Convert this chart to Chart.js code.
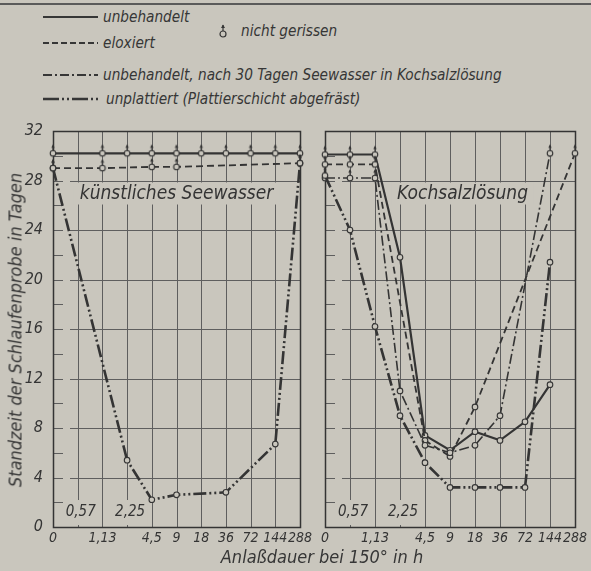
<!DOCTYPE html>
<html lang="de">
<head>
<meta charset="utf-8">
<title>Standzeit der Schlaufenprobe</title>
<script src="https://cdn.jsdelivr.net/npm/chart.js@4.4.1/dist/chart.umd.min.js"></script>
<style>
    html, body { margin: 0; padding: 0; }
    body {
        width: 591px; height: 571px; position: relative; overflow: hidden;
        background: #c9c6bd; color: #363636;
        font-family: "Liberation Sans Narrow", "DejaVu Sans Condensed", "Liberation Sans", Arimo, sans-serif; font-style: italic;
    }
    .rule { position: absolute; left: 0; top: 3px; width: 591px; height: 2px; background: #5a5a5a; }
    .item { position: absolute; height: 20px; display: flex; align-items: center; white-space: nowrap; font-size: 15.2px; }
    .item svg { margin-right: 5px; }
    canvas { position: absolute; top: 110px; }
    #chartSea { left: 0; }
    #chartSalt { left: 300px; }
    .title-x { position: absolute; left: 322px; top: 556px; transform: translate(-50%, -50%); font-size: 18px; white-space: nowrap; }
    .title-y { position: absolute; left: 15px; top: 330px; transform: translate(-50%, -50%) rotate(-90deg); font-size: 18px; white-space: nowrap; }
</style>
</head>
<body>
<div class="rule"></div>

<div class="item" style="left:43px; top:7px">
    <svg width="55" height="10"><line x1="0" y1="5" x2="55" y2="5" stroke="#363636" stroke-width="2"/></svg>
    <span>unbehandelt</span>
</div>
<div class="item" style="left:43px; top:33px">
    <svg width="55" height="10"><line x1="0" y1="5" x2="55" y2="5" stroke="#363636" stroke-width="1.8" stroke-dasharray="6 3"/></svg>
    <span>eloxiert</span>
</div>
<div class="item" style="left:218px; top:21px">
    <svg width="18" height="16"><line x1="5" y1="2" x2="5" y2="8" stroke="#363636" stroke-width="1.2"/><path d="M3 5 L5 1.5 L7 5 Z" fill="#363636"/><circle cx="5" cy="11" r="3" fill="none" stroke="#363636" stroke-width="1.2"/></svg>
    <span>nicht gerissen</span>
</div>
<div class="item" style="left:43px; top:65px">
    <svg width="55" height="10"><line x1="0" y1="5" x2="55" y2="5" stroke="#363636" stroke-width="1.8" stroke-dasharray="9 3 2 3"/></svg>
    <span>unbehandelt, nach 30 Tagen Seewasser in Kochsalzlösung</span>
</div>
<div class="item" style="left:43px; top:89px">
    <svg width="58" height="10"><line x1="0" y1="5" x2="58" y2="5" stroke="#363636" stroke-width="2.6" stroke-dasharray="16 3 2 3 2 3"/></svg>
    <span>unplattiert (Plattierschicht abgefräst)</span>
</div>

<canvas id="chartSea" width="320" height="460"></canvas>
<canvas id="chartSalt" width="291" height="460"></canvas>

<div class="title-y">Standzeit der Schlaufenprobe in Tagen</div>
<div class="title-x">Anlaßdauer bei 150° in h</div>

<script>
'use strict';

// x positions are indexes into TIME_LABELS (doubling steps of the annealing time)
const TIME_LABELS = ['0', '0,57', '1,13', '2,25', '4,5', '9', '18', '36', '72', '144', '288'];
const INNER_LABELS = [1, 3];
const Y_MAX = 32;

// künstliches Seewasser: [timeIndex, days]
const SEA_UNBEHANDELT = [[0, 30.2], [2, 30.2], [3, 30.2], [4, 30.2], [5, 30.2], [6, 30.2], [7, 30.2], [8, 30.2], [9, 30.2], [10, 30.2]];
const SEA_ELOXIERT = [[0, 29.0], [2, 29.0], [4, 29.1], [5, 29.1], [10, 29.4]];
const SEA_UNPLATTIERT = [[0, 29.0], [3, 5.4], [4, 2.2], [5, 2.6], [7, 2.8], [9, 6.7], [10, 29.4]];

// Kochsalzlösung
const SALT_UNBEHANDELT = [[0, 30.1], [1, 30.1], [2, 30.1], [3, 21.8], [4, 7.4], [5, 6.2], [6, 7.7], [7, 7.0], [8, 8.5], [9, 11.5]];
const SALT_ELOXIERT = [[0, 29.3], [1, 29.3], [2, 29.3], [4, 7.0], [5, 5.7], [6, 9.7], [10, 30.2]];
const SALT_NACH_SEEWASSER = [[0, 28.2], [1, 28.2], [2, 28.2], [3, 11.0], [4, 6.6], [5, 6.0], [6, 6.6], [7, 9.0], [9, 30.2]];
const SALT_UNPLATTIERT = [[0, 28.4], [1, 24.0], [2, 16.2], [3, 9.0], [4, 5.2], [5, 3.2], [6, 3.2], [7, 3.2], [8, 3.2], [9, 21.4]];

class ChartPage {
    static BG = '#c9c6bd';
    static INK = '#343434';
    static GRID = '#5e5e5e';
    static FONT = '"Liberation Sans Narrow", "DejaVu Sans Condensed", "Liberation Sans", Arimo, sans-serif';
    static NOT_CRACKED = 28;

    static STYLES = {
        solid: { borderWidth: 2.2, borderDash: [] },
        dashed: { borderWidth: 1.8, borderDash: [7, 4] },
        dashDot: { borderWidth: 1.6, borderDash: [10, 3, 2, 3] },
        dashDotDot: { borderWidth: 2.6, borderDash: [13, 3, 2, 3, 2, 3] }
    };

    init() {
        this.arrowMarker = this.makeArrowMarker();
        Chart.register(this.framePlugin());

        this.panel('chartSea', 'künstliches Seewasser', 5.0, true, { left: 0, right: 20 }, [
            this.series(SEA_UNPLATTIERT, 'dashDotDot'),
            this.series(SEA_ELOXIERT, 'dashed'),
            this.series(SEA_UNBEHANDELT, 'solid')
        ]);
        this.panel('chartSalt', 'Kochsalzlösung', 5.5, false, { left: 0, right: 16 }, [
            this.series(SALT_UNPLATTIERT, 'dashDotDot'),
            this.series(SALT_NACH_SEEWASSER, 'dashDot'),
            this.series(SALT_ELOXIERT, 'dashed'),
            this.series(SALT_UNBEHANDELT, 'solid')
        ]);
    }

    // open circle with an upward arrow: specimen not cracked
    makeArrowMarker() {
        let $c = document.createElement('canvas');
        $c.width = 10;
        $c.height = 22;
        let ctx = $c.getContext('2d');
        ctx.strokeStyle = ChartPage.INK;
        ctx.fillStyle = ChartPage.INK;
        ctx.lineWidth = 1.1;
        ctx.beginPath();
        ctx.moveTo(5, 8);
        ctx.lineTo(5, 3.5);
        ctx.stroke();
        ctx.beginPath();
        ctx.moveTo(3.3, 5.5);
        ctx.lineTo(5, 2);
        ctx.lineTo(6.7, 5.5);
        ctx.closePath();
        ctx.fill();
        ctx.beginPath();
        ctx.arc(5, 11, 2.8, 0, Math.PI * 2);
        ctx.fillStyle = ChartPage.BG;
        ctx.fill();
        ctx.stroke();
        return $c;
    }

    series(points, style) {
        return Object.assign({
            data: points.map(([x, y]) => ({ x, y })),
            borderColor: ChartPage.INK,
            tension: 0,
            clip: false,
            pointRadius: 2.8,
            pointBorderWidth: 1.1,
            pointBackgroundColor: ChartPage.BG,
            pointBorderColor: ChartPage.INK,
            pointStyle: ctx => (ctx.raw && ctx.raw.y >= ChartPage.NOT_CRACKED ? this.arrowMarker : 'circle')
        }, ChartPage.STYLES[style]);
    }

    panel(id, title, titleAt, showY, padding, datasets) {
        let font = { family: ChartPage.FONT, size: 14, style: 'italic' };
        new Chart(document.getElementById(id), {
            type: 'line',
            data: { datasets },
            options: {
                responsive: false,
                animation: false,
                layout: { padding: { top: 21, bottom: 0, left: padding.left, right: padding.right } },
                plugins: {
                    legend: { display: false },
                    tooltip: { enabled: false },
                    panelFrame: { title, titleAt }
                },
                scales: {
                    x: {
                        type: 'linear', min: 0, max: TIME_LABELS.length - 1,
                        grid: { display: false, drawTicks: false },
                        border: { display: false },
                        ticks: {
                            stepSize: 1, autoSkip: false, maxRotation: 0, padding: 3,
                            color: ChartPage.INK, font,
                            callback: v => (INNER_LABELS.includes(v) ? '' : TIME_LABELS[v])
                        },
                        afterFit: scale => { scale.height = 43; }
                    },
                    y: {
                        min: 0, max: Y_MAX,
                        grid: { display: false, drawTicks: false },
                        border: { display: false },
                        ticks: {
                            display: showY, stepSize: 2, padding: 10,
                            color: ChartPage.INK, font: Object.assign({}, font, { size: 16 }),
                            callback: v => (v % 4 === 0 ? String(v) : '')
                        },
                        afterFit: scale => { scale.width = showY ? 53 : 25; }
                    }
                }
            }
        });
    }

    // frame, grid with short minor ticks, panel title and the two labels written inside
    framePlugin() {
        return {
            id: 'panelFrame',
            beforeDatasetsDraw(chart, args, opts) {
                let { ctx, chartArea: a, scales: { x, y } } = chart;
                let innerTop = a.bottom - 27;
                ctx.save();
                ctx.strokeStyle = ChartPage.GRID;
                ctx.lineWidth = 1;

                ctx.beginPath();
                for (let i = 1; i < TIME_LABELS.length - 1; i++) {
                    let px = Math.round(x.getPixelForValue(i)) + 0.5;
                    ctx.moveTo(px, a.top);
                    ctx.lineTo(px, a.bottom);
                }
                for (let v = 4; v < Y_MAX; v += 4) {
                    let py = Math.round(y.getPixelForValue(v)) + 0.5;
                    ctx.moveTo(a.left + 17, py);
                    ctx.lineTo(a.right, py);
                }
                for (let v = 2; v < Y_MAX; v += 2) {
                    let py = Math.round(y.getPixelForValue(v)) + 0.5;
                    ctx.moveTo(a.left, py);
                    ctx.lineTo(a.left + 10, py);
                }
                ctx.stroke();

                ctx.strokeStyle = ChartPage.INK;
                ctx.lineWidth = 1.5;
                ctx.strokeRect(Math.round(a.left) + 0.5, Math.round(a.top) + 0.5, Math.round(a.right - a.left), Math.round(a.bottom - a.top));

                ctx.fillStyle = ChartPage.INK;
                ctx.textAlign = 'center';
                ctx.textBaseline = 'middle';

                // panel title on a plain strip that hides the grid
                ctx.font = 'italic 19px ' + ChartPage.FONT;
                let tx = x.getPixelForValue(opts.titleAt);
                let tw = ctx.measureText(opts.title).width;
                let ty = y.getPixelForValue(Y_MAX - 4) + 2;
                ctx.fillStyle = ChartPage.BG;
                ctx.fillRect(tx - tw / 2 - 6, ty, tw + 12, 22);
                ctx.fillStyle = ChartPage.INK;
                ctx.fillText(opts.title, tx, ty + 12);

                // the crowded time labels sit inside the plot
                ctx.font = 'italic 15px ' + ChartPage.FONT;
                INNER_LABELS.forEach(i => {
                    let lx = x.getPixelForValue(i) + 3;
                    let lw = ctx.measureText(TIME_LABELS[i]).width;
                    ctx.fillStyle = ChartPage.BG;
                    ctx.fillRect(lx - lw / 2 - 2, innerTop, lw + 4, a.bottom - innerTop - 2);
                    ctx.fillStyle = ChartPage.INK;
                    ctx.fillText(TIME_LABELS[i], lx, a.bottom - 15);
                });
                ctx.restore();
            }
        };
    }
}

new ChartPage().init();
</script>
</body>
</html>
